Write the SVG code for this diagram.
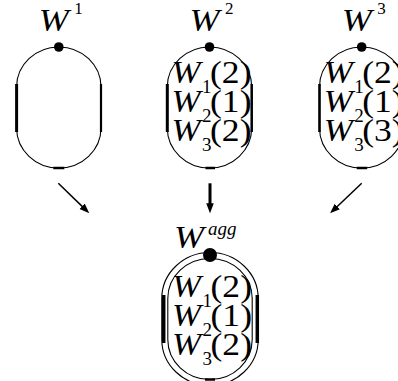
<svg xmlns="http://www.w3.org/2000/svg" width="398" height="381" viewBox="0 0 398 381" font-family="Liberation Serif, Times New Roman, Noto Serif, DejaVu Serif, serif">
<style>
.bg{fill:#fff}
.ov{fill:none;stroke:#000;stroke-width:1.1}
.bar{stroke:#000;stroke-linecap:butt}
text{font-family:"Liberation Serif","Times New Roman","Noto Serif","DejaVu Serif",Times,serif;fill:#000}
.w{font-style:italic;font-size:31px}
.n{font-size:31px}
.s{font-size:19px}
.sup{font-size:17px}
.supi{font-style:italic;font-size:19px}
.arr{stroke:#000;fill:none}
</style>
<defs>
<path id="stad" d="M-42.2,40 A42.2,40 0 0 1 42.2,40 L42.2,81 A42.2,40 0 0 1 -42.2,81 Z"/>
<marker id="ah" markerUnits="userSpaceOnUse" markerWidth="11" markerHeight="8" refX="4" refY="3.75" orient="auto">
<path d="M0,0 L10,3.75 L0,7.5 Z" fill="#000"/>
</marker>
</defs>
<rect class="bg" x="0" y="0" width="398" height="381"/>

<g id="node-W1" transform="translate(58.8,47)">
<use href="#stad" class="ov"/>
<line class="bar" x1="-42.2" y1="37" x2="-42.2" y2="85" stroke-width="3"/>
<line class="bar" x1="42.2" y1="37" x2="42.2" y2="85" stroke-width="2.2"/>
<line class="bar" x1="-5.5" y1="121" x2="5.5" y2="121" stroke-width="2.5"/>
<circle cx="0" cy="0" r="4.8" fill="#000"/>
<text class="w" x="-20" y="-16" textLength="30" lengthAdjust="spacingAndGlyphs">W</text>
<text class="sup" x="15.5" y="-33">1</text>
</g>

<g id="node-W2" transform="translate(209.5,47)">
<use href="#stad" class="ov"/>
<line class="bar" x1="-42.2" y1="37" x2="-42.2" y2="85" stroke-width="3"/>
<line class="bar" x1="42.2" y1="37" x2="42.2" y2="85" stroke-width="2.5"/>
<line class="bar" x1="-4" y1="121" x2="5.5" y2="121" stroke-width="2.5"/>
<circle cx="0" cy="0" r="4.8" fill="#000"/>
<text class="w" x="-20" y="-16" textLength="30" lengthAdjust="spacingAndGlyphs">W</text>
<text class="sup" x="15.5" y="-33">2</text>
<text class="w" x="-38" y="36" textLength="29" lengthAdjust="spacingAndGlyphs">W</text>
<text class="s" x="-7.5" y="46">1</text>
<text class="n" x="0.5" y="36" textLength="41.5" lengthAdjust="spacingAndGlyphs">(2)</text>
<text class="w" x="-38" y="65" textLength="29" lengthAdjust="spacingAndGlyphs">W</text>
<text class="s" x="-7.5" y="75">2</text>
<text class="n" x="0.5" y="65" textLength="41.5" lengthAdjust="spacingAndGlyphs">(1)</text>
<text class="w" x="-38" y="94" textLength="29" lengthAdjust="spacingAndGlyphs">W</text>
<text class="s" x="-7.5" y="104">3</text>
<text class="n" x="0.5" y="94" textLength="41.5" lengthAdjust="spacingAndGlyphs">(2)</text>
</g>

<g id="node-W3" transform="translate(361.7,47)">
<use href="#stad" class="ov"/>
<line class="bar" x1="-42.2" y1="37" x2="-42.2" y2="85" stroke-width="2.6"/>
<line class="bar" x1="-5" y1="121" x2="5.5" y2="121" stroke-width="2.5"/>
<circle cx="0" cy="0" r="4.8" fill="#000"/>
<text class="w" x="-20" y="-16" textLength="30" lengthAdjust="spacingAndGlyphs">W</text>
<text class="sup" x="15.5" y="-33">3</text>
<text class="w" x="-38" y="36" textLength="29" lengthAdjust="spacingAndGlyphs">W</text>
<text class="s" x="-7.5" y="46">1</text>
<text class="n" x="0.5" y="36" textLength="41.5" lengthAdjust="spacingAndGlyphs">(2)</text>
<text class="w" x="-38" y="65" textLength="29" lengthAdjust="spacingAndGlyphs">W</text>
<text class="s" x="-7.5" y="75">2</text>
<text class="n" x="0.5" y="65" textLength="41.5" lengthAdjust="spacingAndGlyphs">(1)</text>
<text class="w" x="-38" y="94" textLength="29" lengthAdjust="spacingAndGlyphs">W</text>
<text class="s" x="-7.5" y="104">3</text>
<text class="n" x="0.5" y="94" textLength="41.5" lengthAdjust="spacingAndGlyphs">(3)</text>
</g>

<g id="node-Wagg" transform="translate(210,258.5)">
<use href="#stad" class="ov"/>
<path class="ov" d="M-48.2,40 A48.2,46 0 0 1 48.2,40 L48.2,81 A48.2,46 0 0 1 -48.2,81 Z"/>
<line class="bar" x1="-46.3" y1="36.5" x2="-46.3" y2="84.5" stroke-width="3.5"/>
<line class="bar" x1="47.3" y1="36.5" x2="47.3" y2="84.5" stroke-width="3.5"/>
<line class="bar" x1="-5" y1="121" x2="5" y2="121" stroke-width="2.5"/>
<circle cx="0" cy="-3.5" r="7" fill="#000"/>
<text class="w" x="-36" y="-10.5" textLength="30" lengthAdjust="spacingAndGlyphs">W</text>
<text class="supi" x="-2" y="-23.5">agg</text>
<text class="w" x="-38" y="38" textLength="29" lengthAdjust="spacingAndGlyphs">W</text>
<text class="s" x="-7.5" y="48">1</text>
<text class="n" x="0.5" y="38" textLength="41.5" lengthAdjust="spacingAndGlyphs">(2)</text>
<text class="w" x="-38" y="67" textLength="29" lengthAdjust="spacingAndGlyphs">W</text>
<text class="s" x="-7.5" y="77">2</text>
<text class="n" x="0.5" y="67" textLength="41.5" lengthAdjust="spacingAndGlyphs">(1)</text>
<text class="w" x="-38" y="96" textLength="29" lengthAdjust="spacingAndGlyphs">W</text>
<text class="s" x="-7.5" y="106">3</text>
<text class="n" x="0.5" y="96" textLength="41.5" lengthAdjust="spacingAndGlyphs">(2)</text>
</g>

<g id="connectors">
<line class="arr" x1="58.3" y1="183.3" x2="85" y2="209.1" stroke-width="1.5" marker-end="url(#ah)"/>
<line class="arr" x1="210" y1="183.3" x2="210" y2="207.3" stroke-width="3" marker-end="url(#ah)"/>
<line class="arr" x1="361.7" y1="183.3" x2="334.4" y2="209.2" stroke-width="1.5" marker-end="url(#ah)"/>
</g>
</svg>
